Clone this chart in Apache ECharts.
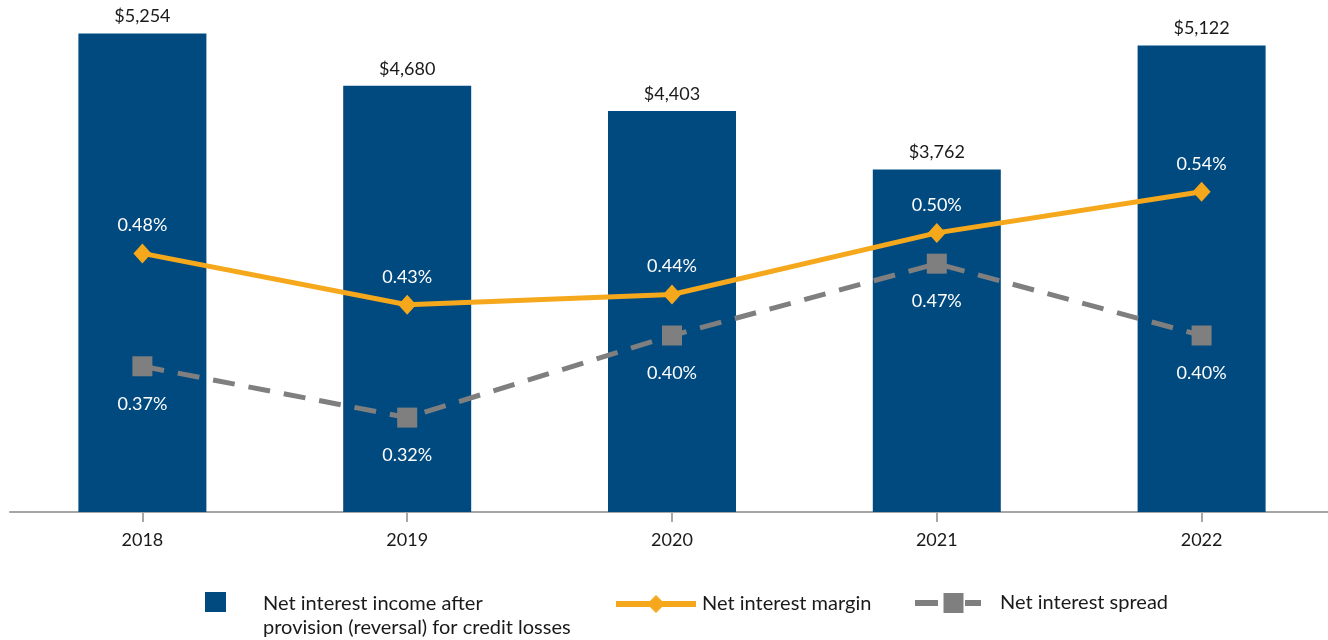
<!DOCTYPE html>
<html>
<head>
<meta charset="utf-8">
<script src="https://cdn.jsdelivr.net/npm/echarts@6/dist/echarts.min.js"></script>
<style>
html,body{margin:0;padding:0;background:#fff;}
#c{width:1328px;height:640px;}
</style>
</head>
<body>
<div id="c"></div>
<script>
const categories = ['2018', '2019', '2020', '2021', '2022'];
const netInterestIncome = [5254, 4680, 4403, 3762, 5122];
const netInterestMargin = [0.48, 0.43, 0.44, 0.50, 0.54];
const netInterestSpread = [0.37, 0.32, 0.40, 0.47, 0.40];
const seriesNames = [
  'Net interest income after\nprovision (reversal) for credit losses',
  'Net interest margin',
  'Net interest spread'
];

const FONT = 'Lato, "Open Sans", sans-serif';
const chart = echarts.init(document.getElementById('c'), null, {renderer: 'canvas'});
chart.setOption({
  animation: false,
  textStyle: {fontFamily: FONT},
  grid: {left: 10, right: -6, top: 2, bottom: 128, containLabel: false, outerBoundsMode: 'none'},
  xAxis: {
    type: 'category',
    data: categories,
    axisLine: {show: true, lineStyle: {color: '#a6a6a6', width: 2}},
    axisTick: {show: true, alignWithLabel: true, length: 10, lineStyle: {color: '#a6a6a6', width: 2}},
    axisLabel: {color: '#1a1a1a', fontSize: 18, fontFamily: FONT, margin: 19}
  },
  yAxis: [
    {type: 'value', min: 0, max: 5600, show: false, splitLine: {show: false}},
    {type: 'value', min: 0.228, max: 0.725, show: false, splitLine: {show: false}}
  ],
  legend: [
    {
      data: [seriesNames[0]], left: 205, top: 592, padding: 0,
      itemWidth: 21, itemHeight: 48,
      icon: 'path://M0,0H21V20H0Z M0,48L0.001,48Z', selectedMode: false,
      textStyle: {fontSize: 20, color: '#1a1a1a', fontFamily: FONT, lineHeight: 24, padding: [0, 0, 0, 32]}
    },
    {
      data: [seriesNames[1]], left: 613, top: 594, padding: 0,
      itemWidth: 80, itemHeight: 22.5, selectedMode: false,
      lineStyle: {width: 6},
      textStyle: {fontSize: 20, color: '#1a1a1a', fontFamily: FONT, padding: [0, 0, 0, 1]}
    },
    {
      data: [seriesNames[2]], left: 912, top: 593, padding: 0,
      itemWidth: 77, itemHeight: 25, selectedMode: false,
      lineStyle: {width: 6, type: [23, 27, 16, 20]},
      textStyle: {fontSize: 20, color: '#1a1a1a', fontFamily: FONT, padding: [0, 0, 0, 3]}
    }
  ],
  series: [
    {
      name: seriesNames[0],
      type: 'bar',
      data: netInterestIncome,
      barWidth: 128,
      itemStyle: {color: '#004a7f'},
      label: {
        show: true, position: 'top', distance: 8,
        color: '#1a1a1a', fontSize: 18, fontFamily: FONT,
        formatter: p => '$' + p.value.toLocaleString('en-US')
      }
    },
    {
      name: seriesNames[1],
      type: 'line',
      yAxisIndex: 1,
      data: netInterestMargin,
      symbol: 'diamond',
      symbolSize: [18, 20],
      lineStyle: {color: '#f6a81c', width: 5},
      itemStyle: {color: '#f6a81c'},
      label: {
        show: true, position: 'top', distance: 9,
        color: '#ffffff', fontSize: 18, fontFamily: FONT,
        formatter: p => p.value.toFixed(2) + '%'
      },
      z: 3
    },
    {
      name: seriesNames[2],
      type: 'line',
      yAxisIndex: 1,
      data: netInterestSpread,
      symbol: 'rect',
      symbolSize: 20,
      lineStyle: {color: '#7f7f7f', width: 5, type: [22, 14]},
      itemStyle: {color: '#7f7f7f'},
      label: {
        show: true, position: 'bottom', distance: 19,
        color: '#ffffff', fontSize: 18, fontFamily: FONT,
        formatter: p => p.value.toFixed(2) + '%'
      },
      z: 3
    }
  ]
});
</script>
</body>
</html>
